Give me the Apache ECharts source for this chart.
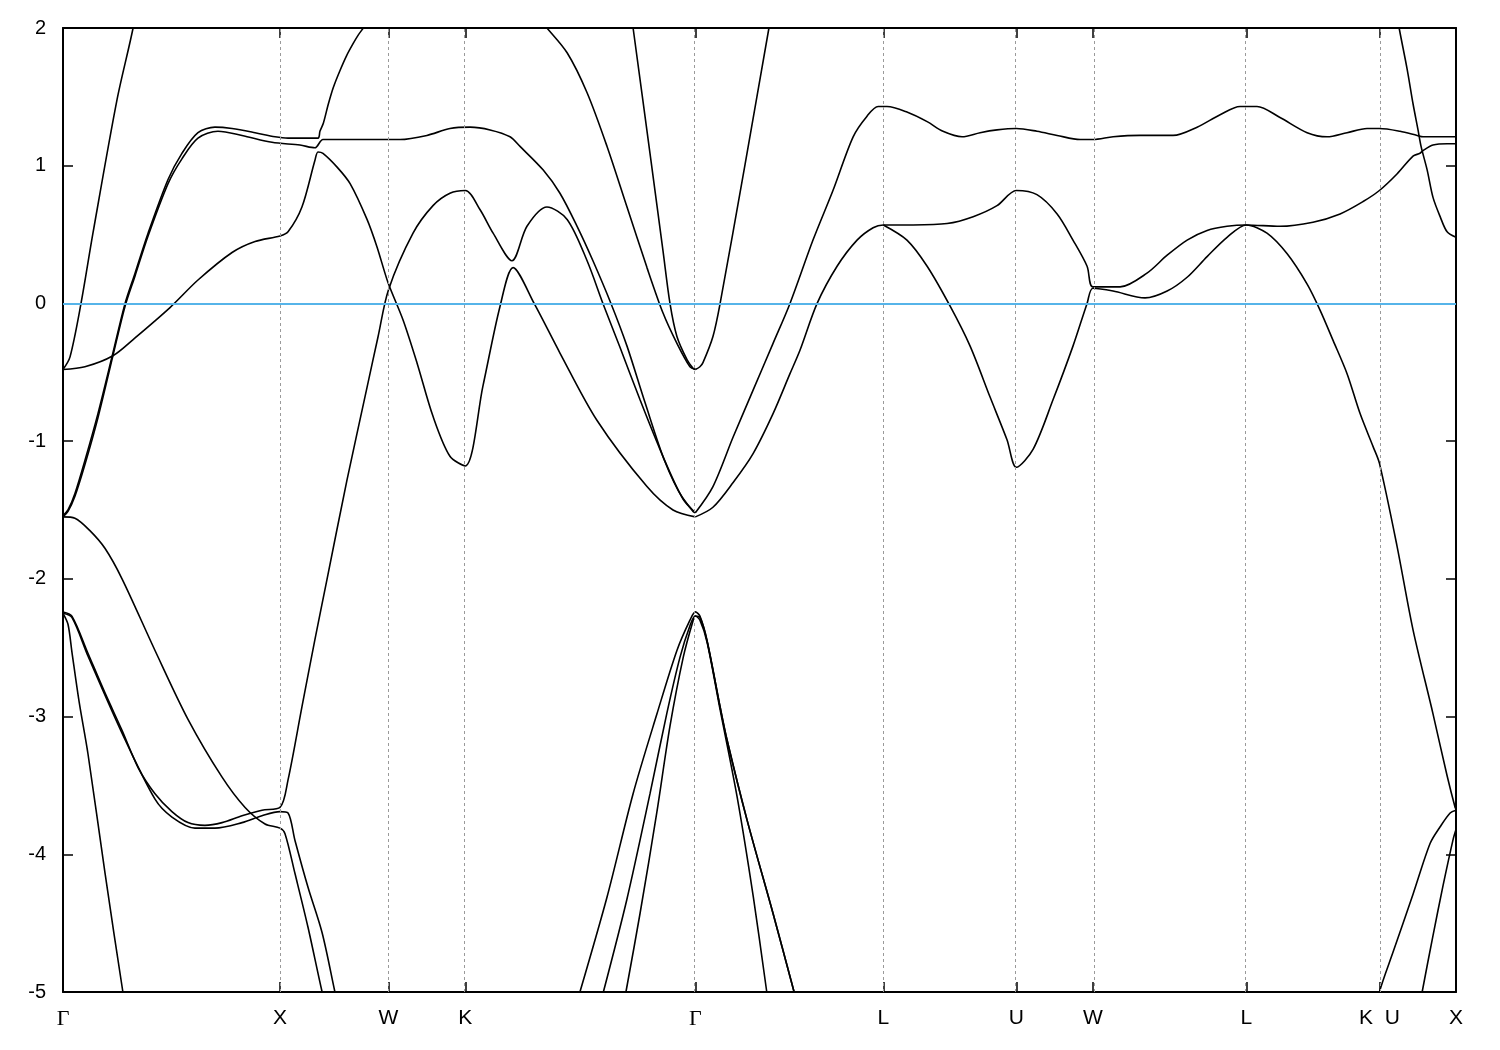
<!DOCTYPE html>
<html><head><meta charset="utf-8">
<script src="https://cdn.jsdelivr.net/npm/echarts@6/dist/echarts.min.js"></script>
<style>html,body{margin:0;padding:0;background:#fff}#c{width:1500px;height:1050px}</style>
</head><body><div id="c"></div>
<script>
const kLabels = ['Γ','X','W','K','Γ','L','U','W','L','K  U','X'];
const kPositions = [0, 1, 1.5, 1.854, 2.914, 3.780, 4.393, 4.746, 5.453, 6.066, 6.419];
const yMin = -5, yMax = 2, yStep = 1;
const fermiLevel = 0;

const band01 = [[0,-0.48],[0.032,-0.39],[0.083,0],[0.138,0.51],[0.249,1.48],[0.323,2.0],[0.355,2.3]];
const band02 = [[0,-0.48],[0.101,-0.46],[0.230,-0.38],[0.332,-0.25],[0.493,-0.03],[0.622,0.17],[0.779,0.37],[0.885,0.45],[1.0,0.49],[1.037,0.52],[1.101,0.70],[1.161,1.04],[1.175,1.10],[1.198,1.09],[1.263,0.99],[1.323,0.87],[1.401,0.61],[1.447,0.41],[1.498,0.15],[1.567,-0.12],[1.631,-0.43],[1.705,-0.82],[1.783,-1.11],[1.854,-1.18],[1.935,-0.60],[2.014,-0.02],[2.074,0.26],[2.171,0],[2.290,-0.36],[2.461,-0.85],[2.691,-1.33],[2.811,-1.50],[2.914,-1.55]];
const band03 = [[0,-1.54],[0.023,-1.50],[0.055,-1.38],[0.101,-1.14],[0.161,-0.80],[0.230,-0.36],[0.286,0],[0.332,0.22],[0.392,0.51],[0.484,0.90],[0.548,1.09],[0.622,1.24],[0.700,1.28],[0.779,1.27],[0.885,1.24],[0.977,1.21],[1.037,1.20],[1.175,1.20],[1.184,1.25],[1.200,1.31],[1.223,1.45],[1.246,1.57],[1.276,1.69],[1.307,1.80],[1.338,1.89],[1.361,1.95],[1.384,2.0],[1.415,2.07]];
const band04 = [[0,-1.55],[0.023,-1.51],[0.055,-1.40],[0.101,-1.17],[0.161,-0.83],[0.230,-0.38],[0.286,-0.02],[0.332,0.20],[0.392,0.49],[0.484,0.87],[0.548,1.05],[0.622,1.20],[0.714,1.25],[0.825,1.22],[0.963,1.17],[1.092,1.15],[1.161,1.13],[1.198,1.19],[1.323,1.19],[1.553,1.19],[1.677,1.22],[1.783,1.27],[1.876,1.28],[1.968,1.26],[2.060,1.21],[2.106,1.14],[2.212,0.97],[2.290,0.80],[2.369,0.56],[2.442,0.31],[2.525,0],[2.599,-0.31],[2.682,-0.72],[2.774,-1.15],[2.857,-1.42],[2.914,-1.52]];
const band05 = [[0,-2.24],[0.041,-2.27],[0.115,-2.54],[0.194,-2.83],[0.272,-3.10],[0.346,-3.37],[0.424,-3.56],[0.502,-3.69],[0.576,-3.77],[0.654,-3.79],[0.733,-3.77],[0.825,-3.72],[0.917,-3.68],[1.0,-3.66],[1.037,-3.46],[1.101,-2.93],[1.161,-2.44],[1.217,-2.0],[1.309,-1.28],[1.401,-0.61],[1.452,-0.24],[1.5,0.10],[1.613,0.51],[1.705,0.71],[1.783,0.80],[1.854,0.82],[1.922,0.68],[1.982,0.51],[2.069,0.31],[2.138,0.56],[2.230,0.70],[2.323,0.61],[2.415,0.31],[2.488,0],[2.567,-0.32],[2.659,-0.70],[2.751,-1.06],[2.843,-1.38],[2.903,-1.51],[2.914,-1.52]];
const band06 = [[0,-1.55],[0.055,-1.56],[0.124,-1.65],[0.194,-1.78],[0.272,-2.0],[0.424,-2.52],[0.576,-3.02],[0.733,-3.44],[0.839,-3.66],[0.931,-3.78],[1.0,-3.81],[1.023,-3.85],[1.069,-4.14],[1.129,-4.53],[1.194,-5.0],[1.212,-5.1]];
const band07 = [[0,-2.25],[0.041,-2.28],[0.115,-2.56],[0.272,-3.12],[0.424,-3.60],[0.502,-3.73],[0.608,-3.81],[0.700,-3.81],[0.825,-3.77],[0.917,-3.72],[1.0,-3.69],[1.037,-3.70],[1.069,-3.90],[1.129,-4.24],[1.194,-4.57],[1.253,-5.0],[1.267,-5.1]];
const band08 = [[0,-2.25],[0.023,-2.33],[0.041,-2.53],[0.074,-2.89],[0.115,-3.27],[0.194,-4.14],[0.276,-5.0],[0.290,-5.1]];
const band09 = [[2.175,2.1],[2.230,2.0],[2.323,1.82],[2.415,1.53],[2.507,1.14],[2.599,0.70],[2.691,0.26],[2.765,-0.07],[2.829,-0.29],[2.889,-0.46],[2.914,-0.48]];
const band10 = [[2.613,2.15],[2.627,2.0],[2.710,1.03],[2.765,0.38],[2.797,0],[2.829,-0.24],[2.876,-0.41],[2.903,-0.47],[2.914,-0.48]];
const band11 = [[2.914,-0.48],[2.935,-0.46],[2.949,-0.43],[2.995,-0.24],[3.028,0],[3.143,1.01],[3.253,2.0],[3.267,2.12]];
const band12 = [[2.382,-5.0],[2.507,-4.31],[2.627,-3.56],[2.737,-2.98],[2.829,-2.52],[2.889,-2.30],[2.914,-2.24],[2.935,-2.27],[2.968,-2.45],[3.028,-2.93],[3.060,-3.17],[3.152,-3.75],[3.272,-4.43],[3.369,-5.0]];
const band13 = [[2.490,-5.0],[2.598,-4.33],[2.705,-3.56],[2.782,-2.98],[2.843,-2.57],[2.889,-2.34],[2.914,-2.27],[2.935,-2.28],[2.968,-2.45],[3.028,-2.93],[3.060,-3.17],[3.152,-3.75],[3.272,-4.43],[3.369,-5.0]];
const band14 = [[2.594,-5.0],[2.659,-4.43],[2.736,-3.70],[2.797,-3.07],[2.858,-2.57],[2.904,-2.30],[2.914,-2.27],[2.935,-2.30],[2.968,-2.46],[3.028,-2.95],[3.106,-3.58],[3.181,-4.31],[3.243,-5.0]];
const band15 = [[2.914,-1.52],[2.995,-1.33],[3.088,-0.97],[3.180,-0.63],[3.272,-0.29],[3.350,0],[3.456,0.46],[3.548,0.82],[3.641,1.21],[3.705,1.36],[3.756,1.43],[3.797,1.43],[3.889,1.39],[3.982,1.32],[4.055,1.25],[4.143,1.21],[4.226,1.24],[4.304,1.26],[4.393,1.27],[4.488,1.25],[4.581,1.22],[4.687,1.19],[4.746,1.19],[4.839,1.21],[4.963,1.22],[5.115,1.22],[5.226,1.28],[5.332,1.37],[5.424,1.43],[5.502,1.43],[5.608,1.35],[5.733,1.24],[5.825,1.21],[5.917,1.24],[6.009,1.27],[6.066,1.27],[6.161,1.25],[6.240,1.22],[6.267,1.21],[6.419,1.21]];
const band16 = [[2.914,-1.55],[2.995,-1.48],[3.088,-1.30],[3.180,-1.09],[3.272,-0.80],[3.350,-0.51],[3.396,-0.34],[3.475,0],[3.567,0.27],[3.659,0.46],[3.733,0.55],[3.780,0.57],[3.917,0.57],[4.074,0.58],[4.194,0.63],[4.304,0.71],[4.393,0.82],[4.488,0.79],[4.581,0.65],[4.654,0.46],[4.719,0.27],[4.746,0.12],[4.871,0.12],[4.995,0.22],[5.088,0.35],[5.180,0.46],[5.272,0.53],[5.364,0.56],[5.453,0.57],[5.608,0.56],[5.760,0.59],[5.885,0.65],[5.991,0.74],[6.066,0.82],[6.147,0.94],[6.221,1.07],[6.253,1.09],[6.267,1.11],[6.313,1.15],[6.378,1.16],[6.419,1.16]];
const band17 = [[3.780,0.57],[3.889,0.46],[3.982,0.27],[4.088,-0.02],[4.180,-0.31],[4.272,-0.68],[4.350,-0.99],[4.393,-1.19],[4.470,-1.06],[4.562,-0.70],[4.654,-0.31],[4.719,0],[4.746,0.11],[4.839,0.09],[4.986,0.04],[5.088,0.09],[5.180,0.19],[5.272,0.34],[5.364,0.48],[5.453,0.57],[5.548,0.51],[5.641,0.36],[5.733,0.14],[5.793,-0.05],[5.853,-0.27],[5.917,-0.51],[5.977,-0.80],[6.037,-1.04],[6.066,-1.16],[6.147,-1.76],[6.221,-2.37],[6.313,-2.98],[6.378,-3.43],[6.415,-3.66],[6.419,-3.67]];
const band18 = [[6.147,2.1],[6.157,2.0],[6.194,1.70],[6.221,1.45],[6.244,1.26],[6.258,1.14],[6.286,0.97],[6.313,0.77],[6.346,0.63],[6.378,0.52],[6.419,0.48]];
const band19 = [[6.060,-5.1],[6.066,-5.0],[6.129,-4.71],[6.221,-4.29],[6.300,-3.92],[6.346,-3.80],[6.392,-3.70],[6.419,-3.68]];
const band20 = [[6.258,-5.05],[6.263,-5.0],[6.313,-4.59],[6.359,-4.23],[6.406,-3.89],[6.419,-3.82]];

const bands = [band01,band02,band03,band04,band05,band06,band07,band08,band09,band10,
               band11,band12,band13,band14,band15,band16,band17,band18,band19,band20];

const chart = echarts.init(document.getElementById('c'), null, {renderer: 'canvas'});
const fontSans = '"Liberation Sans", Arial, sans-serif';
function labelFor(v) {
  let best = 0, d = Infinity;
  kPositions.forEach((p, i) => { const dd = Math.abs(p - v); if (dd < d) { d = dd; best = i; } });
  const t = kLabels[best];
  return t === 'Γ' ? '{g|Γ}' : t;
}
const commonTick = {show: true, inside: true, length: 10, lineStyle: {color: '#000', width: 1.5}};
const series = bands.map((b, i) => ({
  type: 'line', data: b, showSymbol: false, smooth: 0.3, clip: true, silent: true,
  lineStyle: {color: '#000', width: 1.6}, z: 3
}));
series.push({
  type: 'line', data: [], silent: true, z: 1,
  markLine: {
    silent: true, symbol: 'none', label: {show: false}, animation: false,
    data: kPositions.slice(1, -1).map(v => ({xAxis: v, lineStyle: {color: '#9a9a9a', width: 1, type: [3, 3]}}))
      .concat([{yAxis: fermiLevel, lineStyle: {color: '#56b4e9', width: 2, type: 'solid'}}])
  }
});
chart.setOption({
  animation: false,
  backgroundColor: '#fff',
  grid: {left: 63, right: 44, top: 28, bottom: 58, show: false},
  xAxis: [{
    type: 'value', min: 0, max: kPositions[kPositions.length - 1], position: 'bottom',
    axisLine: {show: true, onZero: false, lineStyle: {color: '#000', width: 2}},
    axisTick: Object.assign({customValues: kPositions}, commonTick),
    splitLine: {show: false},
    axisLabel: {
      customValues: kPositions, margin: 16, color: '#000', fontSize: 21, fontFamily: fontSans,
      formatter: labelFor,
      rich: {g: {fontFamily: '"Liberation Serif", "Times New Roman", serif', fontSize: 22, color: '#000'}}
    }
  }, {
    type: 'value', min: 0, max: kPositions[kPositions.length - 1], position: 'top',
    axisLine: {show: true, onZero: false, lineStyle: {color: '#000', width: 2}},
    axisTick: Object.assign({customValues: kPositions}, commonTick),
    splitLine: {show: false}, axisLabel: {show: false}
  }],
  yAxis: [{
    type: 'value', min: yMin, max: yMax, interval: yStep, position: 'left',
    axisLine: {show: true, onZero: false, lineStyle: {color: '#000', width: 2}},
    axisTick: commonTick, splitLine: {show: false},
    axisLabel: {margin: 17, color: '#000', fontSize: 20, fontFamily: fontSans}
  }, {
    type: 'value', min: yMin, max: yMax, interval: yStep, position: 'right',
    axisLine: {show: true, onZero: false, lineStyle: {color: '#000', width: 2}},
    axisTick: commonTick, splitLine: {show: false}, axisLabel: {show: false}
  }],
  series: series
});
</script></body></html>
